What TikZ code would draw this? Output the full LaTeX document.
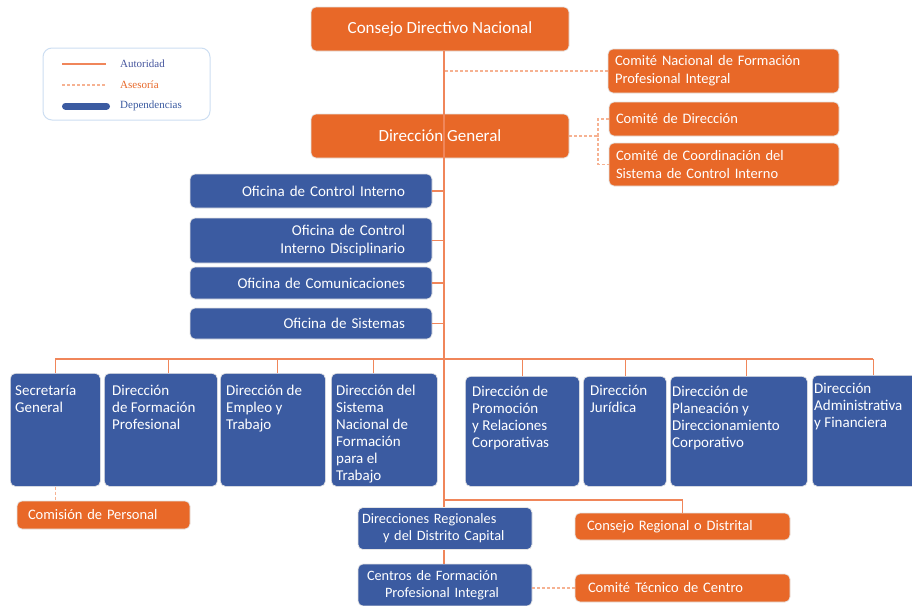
\documentclass[tikz,border=0pt]{standalone}
\usepackage{fontspec}
\setmainfont{Carlito}
\newfontfamily\leyendafont{Liberation Serif}
\usetikzlibrary{positioning}

\definecolor{naranja}{RGB}{232,104,40}
\definecolor{azul}{RGB}{59,91,161}
\definecolor{lineanar}{RGB}{240,134,90}
\definecolor{asesnar}{RGB}{246,178,146}
\definecolor{bordeley}{RGB}{205,222,242}
\definecolor{textoley}{RGB}{70,86,158}

\tikzset{
  caja/.style={rectangle, rounded corners=5pt, draw=black!10, line width=0.7pt, text=white, inner ysep=0pt},
  cajanar/.style={caja, fill=naranja},
  cajaazul/.style={caja, fill=azul},
  titulo/.style={cajanar, font=\fontsize{17}{20}\selectfont, minimum width=258pt, minimum height=44pt},
  comite/.style={cajanar, font=\fontsize{14.5}{18}\selectfont, align=left, inner xsep=7pt},
  oficina/.style={cajaazul, font=\fontsize{15}{18}\selectfont, align=right, text width=188pt, inner xsep=27pt},
  regional/.style={cajaazul, font=\fontsize{14.3}{17}\selectfont, align=left, text width=166pt, inner xsep=4pt, minimum height=42pt},
  direccion/.style={cajaazul, minimum height=113pt, anchor=north west},
  dirtexto/.style 2 args={anchor=north west, align=left, inner sep=0pt, text=white,
    font=\fontsize{15}{17}\selectfont, xshift=#1, yshift=#2},
  leyendatexto/.style={anchor=west, inner sep=0pt, font=\leyendafont\fontsize{11}{13}\selectfont},
  autoridad/.style={draw=lineanar, line width=1.2pt},
  asesoria/.style={draw=asesnar, line width=1.2pt, dash pattern=on 3pt off 2pt},
}

\begin{document}
\begin{tikzpicture}[x=1pt,y=-1pt]
  \useasboundingbox (0,0) rectangle (912,605);
  \clip (0,0) rectangle (912,605);
  \fill[white] (0,0) rectangle (912,605);

  % leyenda
  \node[draw=bordeley, line width=1pt, rounded corners=9pt, minimum width=167pt, minimum height=72pt] (leyenda) at (126.5,84) {};
  \node[leyendatexto, text=textoley] (lautoridad) at (120,64) {Autoridad};
  \node[leyendatexto, text=naranja] (lasesoria) at (120,85) {Asesoría};
  \node[leyendatexto, text=azul] (ldepend) at (120,106) {Dependencias};
  \draw[autoridad] ([xshift=-58pt]lautoridad.west) -- ([xshift=-14pt]lautoridad.west);
  \draw[asesoria] ([xshift=-58pt]lasesoria.west) -- ([xshift=-14pt]lasesoria.west);
  \draw[azul, line width=7pt, line cap=round] ([xshift=-54.5pt]ldepend.west) -- ([xshift=-13.5pt]ldepend.west);

  % nivel directivo
  \node[titulo] (cdn) at (440,29) {Consejo Directivo Nacional};
  \node[titulo] (dg) at (440,136) {Dirección General};

  % comites asesores
  \node[comite, text width=217pt, minimum height=44pt] (cnfpi) at (723.5,71) {Comité Nacional de Formación\\Profesional Integral};
  \node[comite, text width=216pt, minimum height=34pt] (cdd) at (724,119) {Comité de Dirección};
  \node[comite, text width=216pt, minimum height=43pt] (ccsci) at (724,164.5) {Comité de Coordinación del\\Sistema de Control Interno};

  % oficinas
  \node[oficina, minimum height=34pt] (oci) at (311,191) {Oficina de Control Interno};
  \node[oficina, minimum height=45pt] (ocid) at (311,240.5) {Oficina de Control\\Interno Disciplinario};
  \node[oficina, minimum height=32pt] (ocom) at (311,283) {Oficina de Comunicaciones};
  \node[oficina, minimum height=31pt] (osis) at (311,323.5) {Oficina de Sistemas};

  % direcciones
  \node[direccion, minimum width=90pt,
    label={[dirtexto={5pt}{-10pt}]north west:{\strut Secretaría\\General}}] (sg) at (10,373) {};
  \node[direccion, minimum width=113pt,
    label={[dirtexto={8pt}{-10pt}]north west:{\strut Dirección\\de Formación\\Profesional}}] (dfp) at (104,373) {};
  \node[direccion, minimum width=105pt,
    label={[dirtexto={6pt}{-10pt}]north west:{\strut Dirección de\\Empleo y\\Trabajo}}] (det) at (220,373) {};
  \node[direccion, minimum width=106pt,
    label={[dirtexto={5pt}{-10pt}]north west:{\strut Dirección del\\Sistema\\Nacional de\\Formación\\para el\\Trabajo}}] (dsnft) at (331,373) {};
  \node[direccion, minimum width=114pt, minimum height=110pt,
    label={[dirtexto={7pt}{-8pt}]north west:{\strut Dirección de\\Promoción\\y Relaciones\\Corporativas}}] (dprc) at (465,376) {};
  \node[direccion, minimum width=83pt, minimum height=110pt,
    label={[dirtexto={7pt}{-7pt}]north west:{\strut Dirección\\Jurídica}}] (dj) at (583,376) {};
  \node[direccion, minimum width=137pt, minimum height=110pt,
    label={[dirtexto={2pt}{-8pt}]north west:{\strut Dirección de\\Planeación y\\Direccionamiento\\Corporativo}}] (dpdc) at (670,376) {};
  \node[direccion, minimum width=122pt, minimum height=111pt,
    label={[dirtexto={2pt}{-6pt}]north west:{\strut Dirección\\Administrativa\\y Financiera}}] (daf) at (812,375) {};

  % nivel regional
  \node[comite, text width=151pt, inner xsep=11pt, minimum height=28pt] (cp) at (103.5,515) {Comisión de Personal};
  \node[regional] (drdc) at (445,528.5) {Direcciones Regionales\\\hspace*{21pt}y del Distrito Capital};
  \node[regional] (cfpi) at (445,585) {\hspace*{5pt}Centros de Formación\\\hspace*{23pt}Profesional Integral};
  \node[comite, text width=191pt, inner xsep=12pt, minimum height=27pt] (crdist) at (682.5,526.5) {Consejo Regional o Distrital};
  \node[comite, text width=189pt, inner xsep=13pt, minimum height=28pt] (ctc) at (682.5,588) {Comité Técnico de Centro};

  % lineas de autoridad
  \coordinate (eje) at (444,0);
  \coordinate (barra) at (444,359);
  \coordinate (ramal) at (444,500);
  \coordinate (codo) at (598,136);
  \draw[autoridad] (cdn.south -| eje) -- (drdc.north -| eje);
  \foreach \o in {oci,ocid,ocom,osis}
    \draw[autoridad] (\o.east) -- (\o.east -| eje);
  \draw[autoridad] (sg.north |- barra) -- (daf.north |- barra);
  \foreach \d/\s in {sg/0,dfp/8,det/5,dsnft/-11,dprc/0,dj/1,dpdc/8,daf/0}
    \draw[autoridad] ([xshift=\s pt]\d.north) -- ([xshift=\s pt]\d.north |- barra);
  \draw[autoridad] (ramal) -| (crdist.north);
  \draw[autoridad] (drdc.south -| eje) -- (cfpi.north -| eje);

  % lineas de asesoria
  \draw[asesoria] (cnfpi.west) -- (cnfpi.west -| eje);
  \draw[asesoria] (dg.east) -- (codo);
  \draw[asesoria] (cdd.west) -| (codo) |- (ccsci.west);
  \draw[asesoria] (sg.south) -- (sg.south |- cp.north);
  \draw[asesoria] (ctc.west) -- (ctc.west -| cfpi.east);
\end{tikzpicture}
\end{document}
